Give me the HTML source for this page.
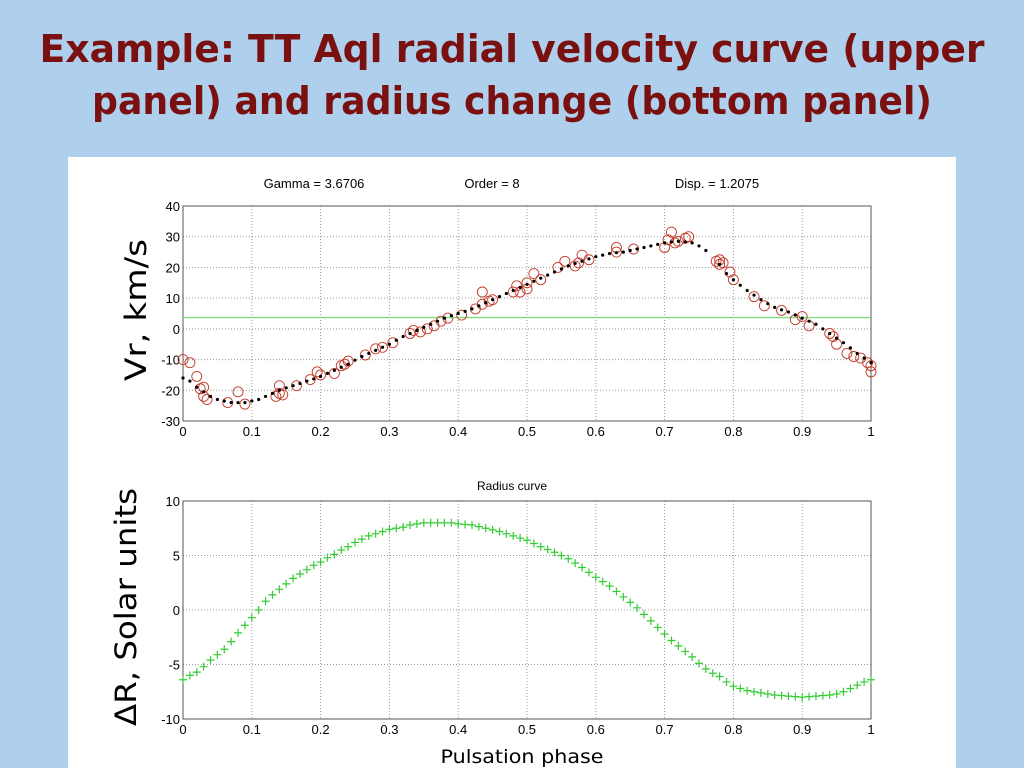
<!DOCTYPE html>
<html><head><meta charset="utf-8"><style>
html,body{margin:0;padding:0;width:1024px;height:768px;overflow:hidden;background:#aed0ec}
svg{display:block}
</style></head><body>
<svg id="s" width="1024" height="768" xmlns="http://www.w3.org/2000/svg">
<text x="512" y="62" text-anchor="middle" font-family="DejaVu Sans, sans-serif" font-weight="bold" font-size="38" fill="#7a1010" textLength="945" lengthAdjust="spacingAndGlyphs">Example: TT Aql radial velocity curve (upper</text>
<text x="512" y="114" text-anchor="middle" font-family="DejaVu Sans, sans-serif" font-weight="bold" font-size="38" fill="#7a1010" textLength="840" lengthAdjust="spacingAndGlyphs">panel) and radius change (bottom panel)</text>
<rect x="68" y="157" width="888" height="611" fill="#fff"/>
<g id="topPanel"></g>
<g id="botPanel"></g>
<text x="0" y="0" transform="translate(146,310) rotate(-90)" text-anchor="middle" font-family="DejaVu Sans, sans-serif" font-size="29" textLength="142" lengthAdjust="spacingAndGlyphs">Vr, km/s</text>
<text x="0" y="0" transform="translate(136,607) rotate(-90)" text-anchor="middle" font-family="DejaVu Sans, sans-serif" font-size="29" textLength="238" lengthAdjust="spacingAndGlyphs">ΔR, Solar units</text>
<text x="522" y="763" text-anchor="middle" font-family="DejaVu Sans, sans-serif" font-size="19" textLength="163" lengthAdjust="spacingAndGlyphs">Pulsation phase</text>
</svg>
<script>
const obsPhase=[0,0.01,0.02,0.025,0.03,0.03,0.035,0.065,0.08,0.09,0.135,0.14,0.14,0.145,0.165,0.185,0.195,0.2,0.22,0.23,0.235,0.24,0.265,0.28,0.29,0.305,0.33,0.335,0.345,0.355,0.365,0.375,0.385,0.405,0.425,0.435,0.435,0.445,0.45,0.48,0.485,0.49,0.5,0.5,0.51,0.52,0.545,0.555,0.57,0.575,0.58,0.59,0.63,0.63,0.655,0.7,0.705,0.71,0.715,0.72,0.73,0.735,0.775,0.78,0.78,0.785,0.795,0.8,0.83,0.845,0.87,0.89,0.9,0.91,0.94,0.945,0.95,0.965,0.975,0.985,0.995,1.0,1.0];
const obsVr=[-10,-11,-15.5,-19.5,-19,-22,-23,-24,-20.5,-24.5,-22,-18.5,-21,-21.5,-18.5,-16.5,-14,-15,-14.5,-12,-11.5,-10.5,-8.5,-6.5,-6,-4.5,-1.5,-0.5,-1,0,1,2.5,3.5,4.5,6.5,8,12,9,9.5,12,14,12,13,15,18,16,20,22,20.5,21.5,24,22.5,25,26.5,26,26.5,29,31.5,28,28.5,29.5,30,22,21,22.5,21.5,18.5,16,10.5,7.5,6,3,4,1,-1.5,-2.5,-5,-8,-9,-9.5,-11,-14,-12];
const fitPhase=[0,0.01,0.02,0.03,0.04,0.05,0.06,0.07,0.08,0.09,0.1,0.11,0.12,0.13,0.14,0.15,0.16,0.17,0.18,0.19,0.2,0.21,0.22,0.23,0.24,0.25,0.26,0.27,0.28,0.29,0.3,0.31,0.32,0.33,0.34,0.35,0.36,0.37,0.38,0.39,0.4,0.41,0.42,0.43,0.44,0.45,0.46,0.47,0.48,0.49,0.5,0.51,0.52,0.53,0.54,0.55,0.56,0.57,0.58,0.59,0.6,0.61,0.62,0.63,0.64,0.65,0.66,0.67,0.68,0.69,0.7,0.71,0.72,0.73,0.74,0.75,0.76,0.78,0.79,0.8,0.81,0.82,0.83,0.84,0.85,0.86,0.87,0.88,0.89,0.9,0.91,0.92,0.93,0.94,0.95,0.96,0.97,0.98,0.99,1.0];
const fitVr=[-16,-17,-19,-20.5,-22,-23,-23.5,-24,-24,-24,-23.5,-23,-22,-21,-20,-19.2,-18.5,-17.8,-17,-16.3,-15.5,-14.5,-13.5,-12.5,-11.5,-10.2,-9,-8,-7,-6,-5,-3.7,-2.5,-1.5,-0.5,0.5,1.5,2.5,3.5,4.3,5,5.7,6.5,7.5,8.5,9.5,10.5,11.5,12.5,13.5,14.5,15.5,16.5,17.5,18.5,19.5,20.5,21.3,22,22.8,23.5,24,24.5,24.8,25,25.5,26,26.5,27,27.5,28,28.3,28.5,28.3,28,27,25.5,21,18,16,14.2,12.5,11,9.5,8.2,7,6.2,5.5,4.5,3.5,2.5,1.5,0,-1.5,-3,-4.5,-6.2,-8,-9.5,-11];
const gamma=3.6706;
const radPhase=[0,0.01,0.02,0.03,0.04,0.05,0.06,0.07,0.08,0.09,0.1,0.11,0.12,0.13,0.14,0.15,0.16,0.17,0.18,0.19,0.2,0.21,0.22,0.23,0.24,0.25,0.26,0.27,0.28,0.29,0.3,0.31,0.32,0.33,0.34,0.35,0.36,0.37,0.38,0.39,0.4,0.41,0.42,0.43,0.44,0.45,0.46,0.47,0.48,0.49,0.5,0.51,0.52,0.53,0.54,0.55,0.56,0.57,0.58,0.59,0.6,0.61,0.62,0.63,0.64,0.65,0.66,0.67,0.68,0.69,0.7,0.71,0.72,0.73,0.74,0.75,0.76,0.77,0.78,0.79,0.8,0.81,0.82,0.83,0.84,0.85,0.86,0.87,0.88,0.89,0.9,0.91,0.92,0.93,0.94,0.95,0.96,0.97,0.98,0.99,1.0];
const radR=[-6.4,-6.0,-5.7,-5.2,-4.6,-4.1,-3.6,-2.9,-2.1,-1.4,-0.7,0,0.8,1.4,1.9,2.4,2.9,3.3,3.7,4.1,4.4,4.8,5.1,5.5,5.8,6.2,6.5,6.8,7,7.2,7.4,7.5,7.6,7.8,7.9,8,8,8,8,8,7.9,7.85,7.8,7.65,7.5,7.35,7.2,7,6.8,6.6,6.4,6.1,5.8,5.55,5.3,5,4.7,4.3,3.9,3.45,3,2.6,2.2,1.7,1.2,0.7,0.2,-0.4,-1,-1.6,-2.2,-2.8,-3.3,-3.8,-4.3,-4.9,-5.4,-5.8,-6.1,-6.6,-7,-7.2,-7.4,-7.5,-7.6,-7.7,-7.8,-7.85,-7.9,-7.95,-8,-7.95,-7.9,-7.85,-7.8,-7.7,-7.5,-7.2,-6.9,-6.6,-6.4];
const xTicks=[0,0.1,0.2,0.3,0.4,0.5,0.6,0.7,0.8,0.9,1];
const xTickLabels=["0","0.1","0.2","0.3","0.4","0.5","0.6","0.7","0.8","0.9","1"];
const vTicks=[-30,-20,-10,0,10,20,30,40];
const rTicks=[-10,-5,0,5,10];

const NS="http://www.w3.org/2000/svg";
function mk(p,tag,a){const e=document.createElementNS(NS,tag);for(const k in a)e.setAttribute(k,a[k]);p.appendChild(e);return e;}
const X0=183,X1=871;
const sx=v=>X0+(X1-X0)*v;
function axes(g,yTop,yBot,vmin,vmax,yt){
  const sy=v=>yBot-(yBot-yTop)*(v-vmin)/(vmax-vmin);
  xTicks.forEach((t,i)=>{
    if(t>0&&t<1){const l=mk(g,'line',{x1:sx(t),x2:sx(t),y1:yTop,y2:yBot,stroke:'#999','stroke-dasharray':'1,2','stroke-width':1});
    
    }
    const tx=mk(g,'text',{x:sx(t),y:yBot+15,'text-anchor':'middle','font-family':'Liberation Sans, sans-serif','font-size':13});
    tx.textContent=xTickLabels[i];
    
    
  });
  yt.forEach(t=>{
    if(t>vmin&&t<vmax){const l=mk(g,'line',{x1:X0,x2:X1,y1:sy(t),y2:sy(t),stroke:'#999','stroke-dasharray':'1,2','stroke-width':1});
    
    }
    const tx=mk(g,'text',{x:X0-3,y:sy(t)+5,'text-anchor':'end','font-family':'Liberation Sans, sans-serif','font-size':13});
    tx.textContent=String(t);
    
    
  });
  const r=mk(g,'rect',{x:X0,y:yTop,width:X1-X0,height:yBot-yTop,fill:'none',stroke:'#555','stroke-width':1});
  
  
  return sy;
}
const gTop=document.getElementById('topPanel');
const sv=axes(gTop,206,421,-30,40,vTicks);
[["Gamma = 3.6706",314],["Order = 8",492],["Disp. = 1.2075",717]].forEach(([t,x])=>{
  const e=mk(gTop,'text',{x:x,y:188,'text-anchor':'middle','font-family':'Liberation Sans, sans-serif','font-size':13});
  e.textContent=t;
  
  
});
const gl=mk(gTop,'line',{x1:X0,x2:X1,y1:sv(gamma),y2:sv(gamma),stroke:'#7fdc7f','stroke-width':1.3});


obsPhase.forEach((p,i)=>{
  const c=mk(gTop,'circle',{cx:sx(p),cy:sv(obsVr[i]),r:5,fill:'none',stroke:'#c23a2a','stroke-width':0.9});
  
  
});
fitPhase.forEach((p,i)=>{
  const c=mk(gTop,'circle',{cx:sx(p),cy:sv(fitVr[i]),r:1.6,fill:'#000'});
  
  
});
const gBot=document.getElementById('botPanel');
const sr=axes(gBot,501,719,-10,10,rTicks);
const rt=mk(gBot,'text',{x:512,y:490,'text-anchor':'middle','font-family':'Liberation Sans, sans-serif','font-size':12});
rt.textContent="Radius curve";


radPhase.forEach((p,i)=>{
  const x=sx(p),y=sr(radR[i]);
  const c=mk(gBot,'path',{d:`M${x-4},${y}H${x+4}M${x},${y-4}V${y+4}`,stroke:'#33cc33','stroke-width':1.2,fill:'none'});
  
  
});
</script>
</body></html>
